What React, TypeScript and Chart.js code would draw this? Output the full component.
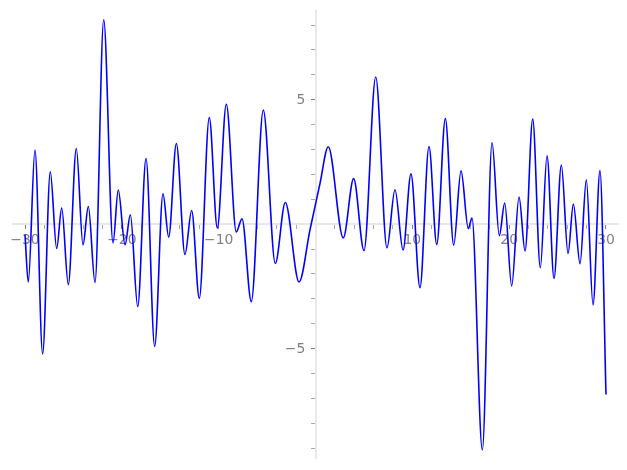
import React, { useEffect, useRef } from 'react';
import { Chart, registerables } from 'chart.js';

Chart.register(...registerables);

// Curve samples (extrema and a few shape points)
const curveX = [
  -30, -29.66, -28.97, -28.18, -27.39, -26.73, -26.21, -25.53, -24.7, -24.01,
  -23.46, -22.77, -21.87, -20.91, -20.37, -19.67, -19.12, -18.36, -17.5, -16.61,
  -15.75, -15.16, -14.37, -13.48, -12.79, -12.0, -10.97, -10.14, -9.21, -8.18,
  -7.59, -6.63, -5.39, -4.15, -3.12, -1.7, -0.57, 0.46, 1.32, 2.87,
  3.94, 5.01, 6.22, 7.38, 8.21, 9.04, 9.86, 10.79, 11.72, 12.52,
  13.41, 14.27, 15.03, 15.78, 16.16, 17.23, 18.23, 18.98, 19.54, 20.26,
  21.02, 21.64, 22.43, 23.22, 23.91, 24.63, 25.39, 26.08, 26.63, 27.32,
  27.97, 28.66, 29.38, 30,
];
const curveY = [
  -0.42, -2.32, 2.98, -5.21, 2.1, -0.98, 0.65, -2.43, 3.04, -0.83,
  0.71, -2.34, 8.21, -0.75, 1.37, -0.83, 0.38, -3.31, 2.64, -4.91,
  1.22, -0.52, 3.24, -1.22, 0.55, -2.98, 4.28, -0.15, 4.82, -0.31,
  0.22, -3.11, 4.58, -1.58, 0.87, -2.32, -0.23, 1.63, 3.11, -0.55,
  1.83, -1.06, 5.91, -0.95, 1.38, -1.04, 2.02, -2.55, 3.12, -0.82,
  4.24, -0.84, 2.14, -0.18, 0.25, -9.07, 3.28, -0.46, 0.85, -2.48,
  1.09, -1.08, 4.22, -1.75, 2.75, -2.18, 2.38, -1.18, 0.81, -1.59,
  1.78, -3.24, 2.15, -6.84,
];

const xTickValues = [
  -30, -28, -26, -24, -22, -20, -18, -16, -14, -12, -10, -8, -6, -4, -2, 0,
  2, 4, 6, 8, 10, 12, 14, 16, 18, 20, 22, 24, 26, 28, 30,
];
const xLabeledTicks = [-30, -20, -10, 10, 20, 30];
const yTickValues = [-9, -8, -7, -6, -5, -4, -3, -2, -1, 0, 1, 2, 3, 4, 5, 6, 7, 8];
const yLabeledTicks = [-5, 5];
const xLimits = [-31.25, 31.25];
const yLimits = [-9.42, 8.55];

const fmt = (v: number) => (v < 0 ? '\u2212' + Math.abs(v) : String(v));

export default function App() {
  const canvasRef = useRef<HTMLCanvasElement | null>(null);

  useEffect(() => {
    const canvas = canvasRef.current;
    if (!canvas) return;
    const tickFont = { family: 'DejaVu Sans', size: 13.9 };
    const chart = new Chart(canvas, {
      type: 'line',
      data: {
        datasets: [
          {
            data: curveX.map((x, i) => ({ x, y: curveY[i] })),
            borderColor: '#0000ff',
            borderWidth: 1.6,
            pointRadius: 0,
            fill: false,
            cubicInterpolationMode: 'monotone',
          },
        ],
      },
      options: {
        responsive: false,
        devicePixelRatio: 1,
        animation: false,
        events: [],
        layout: { padding: { left: 12.9, right: 8.9, top: 10.2, bottom: 10 } },
        plugins: { legend: { display: false }, tooltip: { enabled: false } },
        scales: {
          x: {
            type: 'linear',
            min: xLimits[0],
            max: xLimits[1],
            position: { y: 0 } as any,
            afterFit: (s: any) => {
              s.height = 0;
            },
            afterBuildTicks: (s: any) => {
              s.ticks = xTickValues.map((v) => ({ value: v }));
            },
            grid: {
              display: true,
              drawOnChartArea: false,
              drawTicks: true,
              tickLength: 4,
              tickWidth: 1,
              tickColor: (ctx: any) =>
                ctx.tick && xLabeledTicks.includes(ctx.tick.value) ? '#808080' : '#a8a8a8',
            },
            border: { display: true, color: '#e8e8e8', width: 2 },
            ticks: {
              autoSkip: false,
              maxRotation: 0,
              minRotation: 0,
              padding: 4,
              color: '#808080',
              font: tickFont,
              callback: (v: any) => (xLabeledTicks.includes(Number(v)) ? fmt(Number(v)) : ''),
            },
          },
          y: {
            type: 'linear',
            min: yLimits[0],
            max: yLimits[1],
            position: { x: 0 } as any,
            afterFit: (s: any) => {
              s.width = 0;
            },
            afterBuildTicks: (s: any) => {
              s.ticks = yTickValues.map((v) => ({ value: v }));
            },
            grid: {
              display: true,
              drawOnChartArea: false,
              drawTicks: true,
              tickLength: 4,
              tickWidth: 1,
              tickColor: (ctx: any) =>
                ctx.tick && yLabeledTicks.includes(ctx.tick.value) ? '#808080' : '#a8a8a8',
            },
            border: { display: true, color: '#e8e8e8', width: 2 },
            ticks: {
              autoSkip: false,
              color: '#808080',
              font: tickFont,
              labelOffset: 1,
              callback: (v: any) =>
                yLabeledTicks.includes(Number(v)) ? fmt(Number(v)) + '  \u200a' : '',
            },
          },
        },
      },
    } as any);
    return () => chart.destroy();
  }, []);

  return (
    <div style={{ position: 'fixed', left: 0, top: 0, width: 627, height: 470, background: '#fff' }}>
      <canvas ref={canvasRef} width={627} height={470} style={{ display: 'block' }} />
    </div>
  );
}
